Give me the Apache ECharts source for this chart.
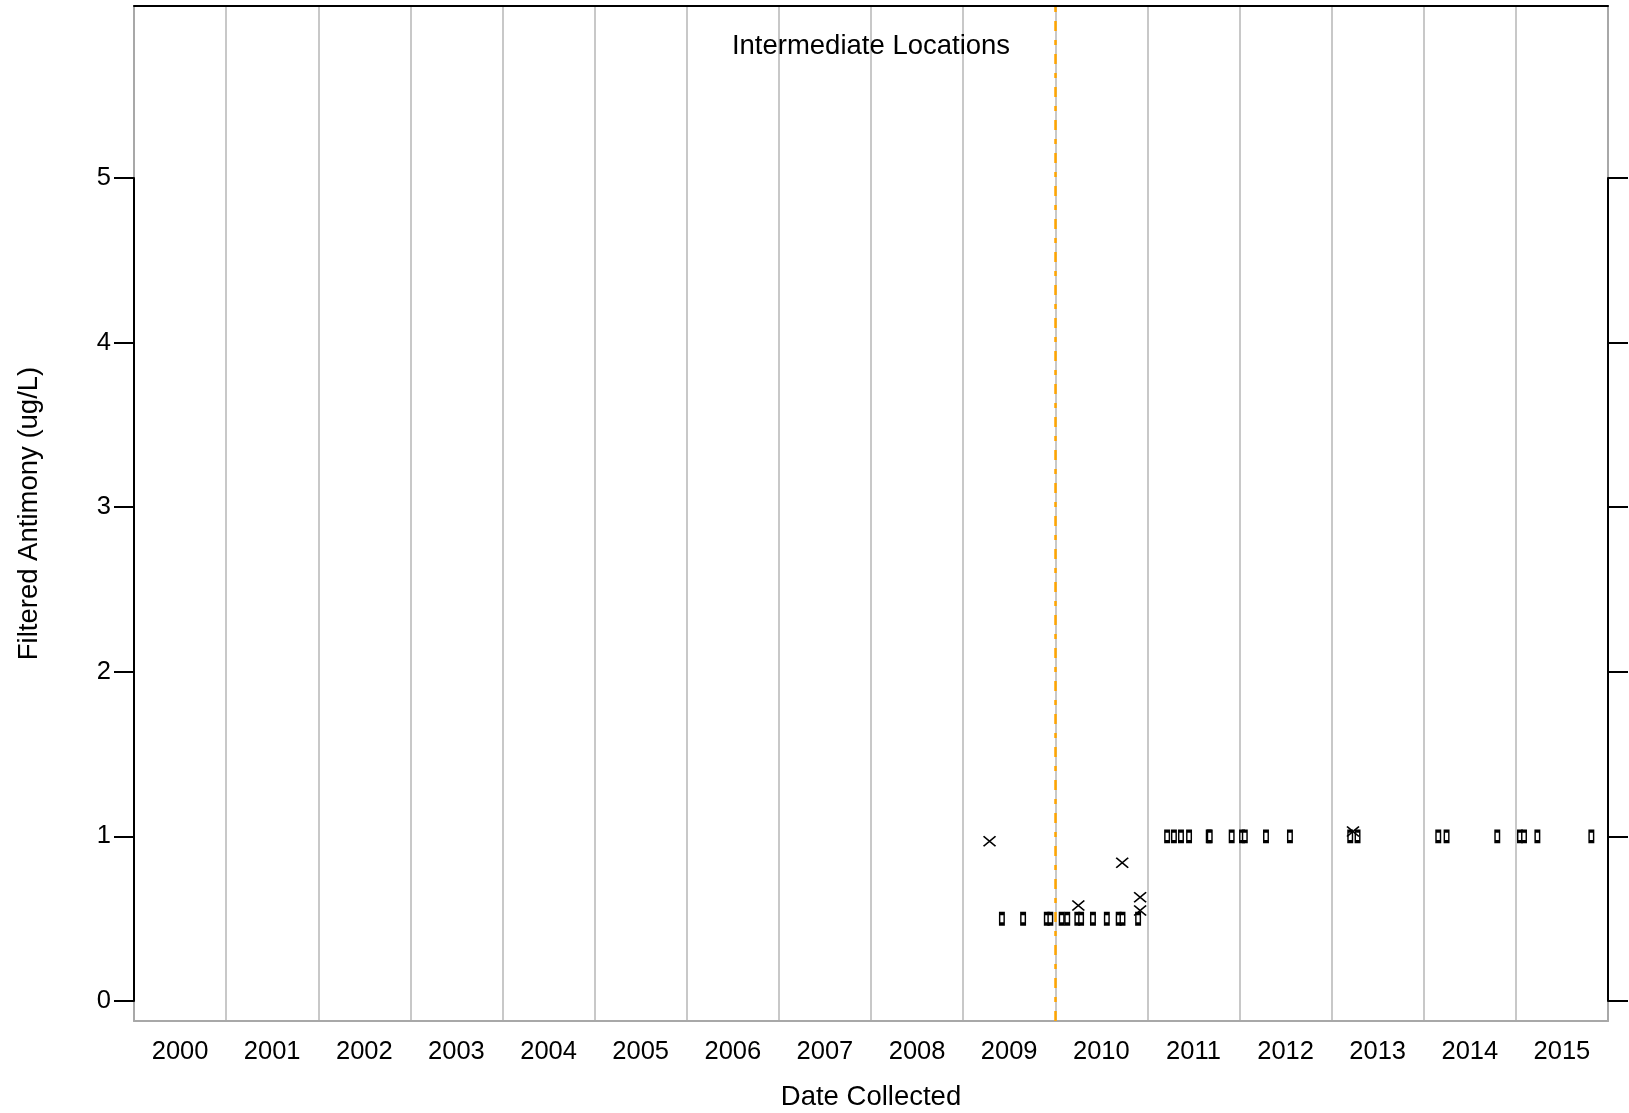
<!DOCTYPE html>
<html>
<head>
<meta charset="utf-8">
<script src="https://cdn.jsdelivr.net/npm/echarts@6/dist/echarts.min.js"></script>
<style>
  html, body { margin: 0; padding: 0; background: #fff; }
  #chart { width: 1629px; height: 1113px; }
</style>
</head>
<body>
<div id="chart"></div>
<script>
const years = ['2000', '2001', '2002', '2003', '2004', '2005', '2006', '2007',
  '2008', '2009', '2010', '2011', '2012', '2013', '2014', '2015']
const yTicks = [0, 1, 2, 3, 4, 5]

// non-detects (open rectangles)
const ndDates = [
  '2009-06-03', '2009-08-26', '2009-11-28', '2009-12-12', '2010-01-26', '2010-02-17',
  '2010-03-29', '2010-04-13', '2010-05-30', '2010-07-24', '2010-09-09', '2010-09-24',
  '2010-11-25',
  '2011-03-20', '2011-04-16', '2011-05-14', '2011-06-15', '2011-09-01', '2011-09-05',
  '2011-12-01', '2012-01-11', '2012-01-22', '2012-04-15', '2012-07-19', '2013-03-15',
  '2013-04-13', '2014-02-27', '2014-04-01', '2014-10-19', '2015-01-17', '2015-02-02',
  '2015-03-27', '2015-10-27'
]
const ndValues = [
  0.5, 0.5, 0.5, 0.5, 0.5, 0.5, 0.5, 0.5, 0.5, 0.5, 0.5, 0.5, 0.5,
  1, 1, 1, 1, 1, 1, 1, 1, 1, 1, 1, 1, 1, 1, 1, 1, 1, 1, 1, 1
]

// detects (x marks)
const detDates = ['2009-04-15', '2010-04-02', '2010-09-23', '2010-12-03', '2010-12-03', '2013-03-26']
const detValues = [0.97, 0.58, 0.84, 0.63, 0.55, 1.03]

const changeDate = '2010-01-01'

const font = 'Liberation Sans, Arial, sans-serif'
const gray = '#c8c8c8'

const option = {
  animation: false,
  textStyle: {fontFamily: font},
  title: {
    text: 'Intermediate Locations',
    left: 866,
    top: 27,
    textAlign: 'center',
    textStyle: {fontSize: 27.5, fontWeight: 'normal', color: '#000', fontFamily: font},
  },
  grid: [
    {left: 134, right: 21, top: 178, bottom: 112, outerBoundsMode: 'none'},
    {left: 134, right: 21, top: 6, bottom: 92, outerBoundsMode: 'none'},
  ],
  xAxis: [
    {gridIndex: 0, type: 'time', min: '2000-01-01', max: '2016-01-01', show: false},
    {
      gridIndex: 1, type: 'category', data: years, boundaryGap: true,
      axisLine: {lineStyle: {color: '#a8a8a8', width: 2}},
      axisTick: {show: false},
      axisLabel: {fontSize: 25.5, color: '#000', margin: 18, fontFamily: font},
      splitLine: {show: true, lineStyle: {color: gray, width: 2}},
      name: 'Date Collected', nameLocation: 'middle', nameGap: 62,
      nameTextStyle: {fontSize: 27.5, color: '#000', fontFamily: font},
    },
    {gridIndex: 1, type: 'time', min: '2000-01-01', max: '2016-01-01', show: false},
    {
      gridIndex: 1, type: 'category', data: years, position: 'top',
      axisLine: {lineStyle: {color: '#000', width: 2}},
      axisTick: {show: false}, axisLabel: {show: false}, splitLine: {show: false},
    },
  ],
  yAxis: [
    {
      gridIndex: 0, type: 'value', min: yTicks[0], max: yTicks[yTicks.length - 1], interval: 1,
      position: 'left', z: 5,
      axisLine: {show: true, lineStyle: {color: '#000', width: 2}},
      axisTick: {show: true, length: 20, lineStyle: {color: '#000', width: 2}},
      axisLabel: {fontSize: 25.5, color: '#000', margin: 23, fontFamily: font},
      splitLine: {show: false},
    },
    {
      gridIndex: 0, type: 'value', min: yTicks[0], max: yTicks[yTicks.length - 1], interval: 1,
      position: 'right', z: 5,
      axisLine: {show: true, lineStyle: {color: '#000', width: 2}},
      axisTick: {show: true, length: 20, lineStyle: {color: '#000', width: 2}},
      axisLabel: {show: false},
      splitLine: {show: false},
    },
    {
      gridIndex: 1, type: 'value', min: 0, max: 1, position: 'left',
      axisLine: {show: true, lineStyle: {color: '#a8a8a8', width: 2}},
      axisTick: {show: false}, axisLabel: {show: false}, splitLine: {show: false},
      name: 'Filtered Antimony (ug/L)', nameLocation: 'middle', nameGap: 91,
      nameTextStyle: {fontSize: 27.5, color: '#000', fontFamily: font},
    },
    {
      gridIndex: 1, type: 'value', min: 0, max: 1, position: 'right',
      axisLine: {show: true, lineStyle: {color: '#a8a8a8', width: 2}},
      axisTick: {show: false}, axisLabel: {show: false}, splitLine: {show: false},
    },
  ],
  series: [
    {
      type: 'line', xAxisIndex: 2, yAxisIndex: 2, data: [],
      markLine: {
        silent: true, symbol: 'none', label: {show: false},
        lineStyle: {color: '#FFA500', width: 2.5, type: [10, 9, 5, 9]},
        data: [{xAxis: changeDate}],
      },
    },
    {
      type: 'scatter', xAxisIndex: 0, yAxisIndex: 0, z: 6,
      symbol: 'rect', symbolSize: [4.5, 10.5],
      itemStyle: {color: '#fff', borderColor: '#000', borderWidth: 2.2, opacity: 1},
      data: ndDates.map((d, i) => [d, ndValues[i]]),
    },
    {
      type: 'scatter', xAxisIndex: 0, yAxisIndex: 0, z: 7,
      symbol: 'path://M0,0L12,10M12,0L0,10', symbolSize: [12, 10],
      itemStyle: {color: 'none', borderColor: '#000', borderWidth: 1.6, opacity: 1},
      data: detDates.map((d, i) => [d, detValues[i]]),
    },
  ],
}

const chart = echarts.init(document.getElementById('chart'))
chart.setOption(option)
window.addEventListener('resize', () => chart.resize())
</script>
</body>
</html>
